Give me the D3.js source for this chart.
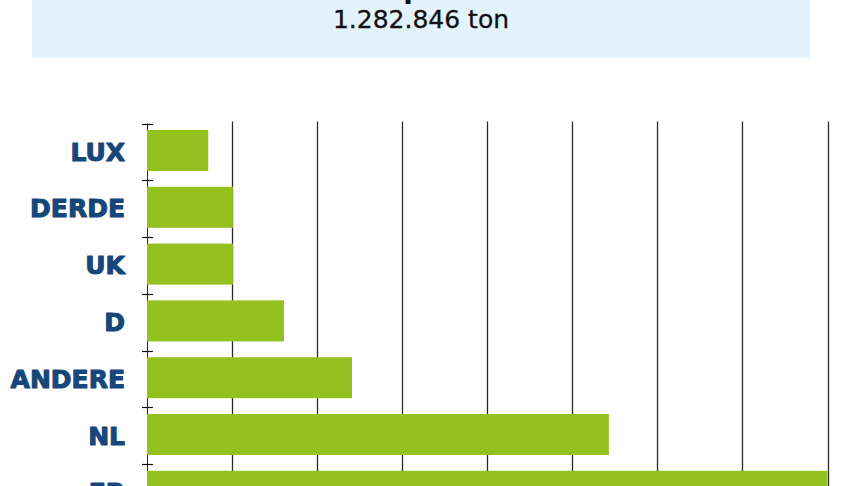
<!DOCTYPE html>
<html>
<head>
<meta charset="utf-8">
<script src="https://cdn.jsdelivr.net/npm/d3@7"></script>
<style>
  html, body { margin: 0; padding: 0; background: #ffffff; }
  svg { display: block; }
</style>
</head>
<body>
<svg id="chart" width="864" height="486"></svg>
<script>
// ---- data ----
const categories = ["LUX", "DERDE", "UK", "D", "ANDERE", "NL", "FR"];
const values = [0.72, 1.01, 1.01, 1.61, 2.41, 5.43, 8.0];
const xTicks = [0, 1, 2, 3, 4, 5, 6, 7, 8];
const titleText = "Export";
const subtitleText = "1.282.846 ton";

// ---- layout ----
const svg = d3.select("#chart");

// header box
svg.append("rect")
  .attr("x", 32).attr("y", -10)
  .attr("width", 778).attr("height", 68)
  .attr("fill", "#e3f2fc");

svg.append("text")
  .attr("x", 418).attr("y", -2)
  .attr("text-anchor", "middle")
  .attr("font-family", "DejaVu Sans")
  .attr("font-weight", "bold")
  .attr("font-size", 28)
  .attr("fill", "#111")
  .text(titleText);

svg.append("text")
  .attr("x", 421).attr("y", 28)
  .attr("text-anchor", "middle")
  .attr("font-family", "DejaVu Sans")
  .attr("font-size", 25)
  .attr("fill", "#111")
  .attr("stroke", "#111")
  .attr("stroke-width", 0.3)
  .text(subtitleText);

// scales
const x0 = 147, x1 = 827.5;
const yTop = 123.5, step = 56.8;
const x = d3.scaleLinear().domain([0, 8]).range([x0, x1]);
const y = d3.scaleBand().domain(categories)
  .range([yTop, yTop + step * categories.length])
  .paddingInner(0).paddingOuter(0);

// gridlines (behind bars)
svg.append("g")
  .selectAll("line")
  .data(xTicks.filter(d => d > 0))
  .join("line")
  .attr("x1", d => Math.round(x(d)) + 0.5)
  .attr("x2", d => Math.round(x(d)) + 0.5)
  .attr("y1", yTop - 2)
  .attr("y2", yTop + step * categories.length)
  .attr("stroke", "#2a2a2a")
  .attr("stroke-width", 1.3);

// axis line
svg.append("line")
  .attr("x1", x0 + 0.5).attr("x2", x0 + 0.5)
  .attr("y1", yTop).attr("y2", yTop + step * categories.length)
  .attr("stroke", "#222").attr("stroke-width", 1);

// tick marks at band boundaries
const boundaries = categories.map(c => y(c));
svg.append("g")
  .selectAll("line")
  .data(boundaries)
  .join("line")
  .attr("x1", x0 - 5).attr("x2", x0 + 6)
  .attr("y1", d => Math.round(d) + 0.5)
  .attr("y2", d => Math.round(d) + 0.5)
  .attr("stroke", "#111").attr("stroke-width", 1.2);

// bars
const barOffset = 6.5, barH = 41;
svg.append("g")
  .selectAll("rect")
  .data(categories)
  .join("rect")
  .attr("x", x(0))
  .attr("y", c => y(c) + barOffset)
  .attr("width", (c, i) => x(values[i]) - x(0))
  .attr("height", barH)
  .attr("fill", "#95c11f");

// labels
svg.append("g")
  .selectAll("text")
  .data(categories)
  .join("text")
  .attr("x", 125)
  .attr("y", c => y(c) + barOffset + barH / 2 + 1)
  .attr("dy", "0.36em")
  .attr("text-anchor", "end")
  .attr("font-family", "DejaVu Sans")
  .attr("font-weight", "bold")
  .attr("font-size", 25)
  .attr("fill", "#17477a")
  .attr("stroke", "#17477a")
  .attr("stroke-width", 1.1)
  .attr("stroke-linejoin", "round")
  .text(c => c);
</script>
</body>
</html>
